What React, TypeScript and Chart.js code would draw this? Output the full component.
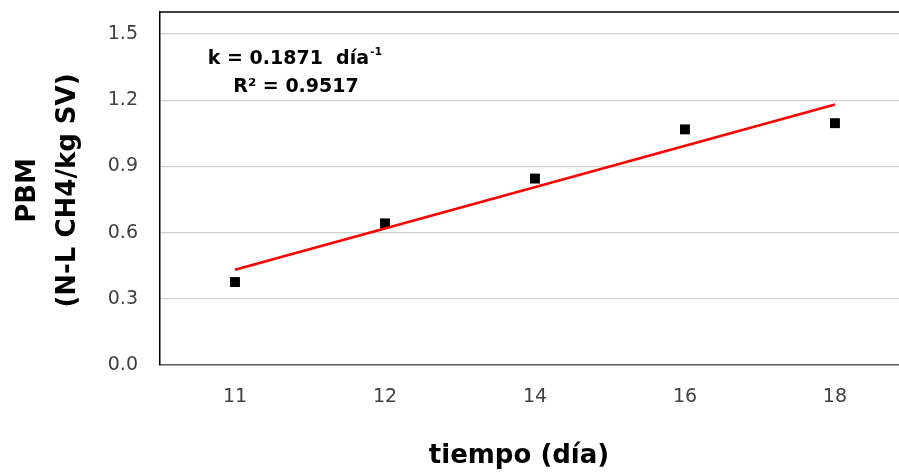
import React, { useEffect, useRef } from "react";
import { Chart, registerables } from "chart.js";

Chart.register(...registerables);

const categories = ["11", "12", "14", "16", "18"];
const pbmValues = [0.376, 0.642, 0.845, 1.068, 1.096];
const trendValues = [0.432, 1.181];
const trendIndex = [0, 4];
const yTicks = [0, 0.3, 0.6, 0.9, 1.2, 1.5];
const yTitle = ["PBM", "(N-L CH4/kg SV)"];
const xTitle = "tiempo (día)";
const annotK = "k = 0.1871  día";
const annotKExp = "-1";
const annotR = "R² = 0.9517";

const FONT = "'DejaVu Sans', sans-serif";

const overlay = {
  id: "overlay",
  afterDraw(chart: any) {
    const { ctx, chartArea } = chart;
    ctx.save();
    // top border
    ctx.strokeStyle = "#000";
    ctx.lineWidth = 1.5;
    ctx.beginPath();
    ctx.moveTo(chartArea.left, chartArea.top);
    ctx.lineTo(chartArea.right, chartArea.top);
    ctx.stroke();

    ctx.fillStyle = "#000";
    // y title
    ctx.font = `bold 26px ${FONT}`;
    ctx.textAlign = "center";
    ctx.textBaseline = "alphabetic";
    const cy = (chartArea.top + chartArea.bottom) / 2 + 2;
    [[35, yTitle[0]], [75, yTitle[1]]].forEach(([x, t]: any) => {
      ctx.save();
      ctx.translate(x, cy);
      ctx.rotate(-Math.PI / 2);
      ctx.fillText(t, 0, 0);
      ctx.restore();
    });
    // x title
    ctx.font = `bold 26px ${FONT}`;
    ctx.fillText(xTitle, 519, 463);

    // annotation
    ctx.font = `bold 19px ${FONT}`;
    const w1 = ctx.measureText(annotK).width;
    ctx.font = `bold 11px ${FONT}`;
    const w2 = ctx.measureText(annotKExp).width;
    const cx = 295;
    const start = cx - (w1 + w2 + 1) / 2;
    ctx.textAlign = "left";
    ctx.font = `bold 19px ${FONT}`;
    ctx.fillText(annotK, start, 64);
    ctx.font = `bold 11px ${FONT}`;
    ctx.fillText(annotKExp, start + w1 + 1, 55);
    ctx.textAlign = "center";
    ctx.font = `bold 19px ${FONT}`;
    ctx.fillText(annotR, 296, 92);
    ctx.restore();
  },
};

export default function App() {
  const ref = useRef<HTMLCanvasElement>(null);
  useEffect(() => {
    if (!ref.current) return;
    const chart = new Chart(ref.current, {
      type: "scatter",
      data: {
        datasets: [
          {
            type: "line",
            data: trendIndex.map((x, i) => ({ x, y: trendValues[i] })),
            borderColor: "#ff0000",
            borderWidth: 2.5,
            pointRadius: 0,
            fill: false,
          } as any,
          {
            data: pbmValues.map((y, i) => ({ x: i, y })),
            pointStyle: "rect",
            pointRadius: 7,
            backgroundColor: "#000",
            borderWidth: 0,
          },
        ],
      },
      plugins: [overlay],
      options: {
        responsive: false,
        animation: false,
        layout: { autoPadding: false, padding: { top: 12, right: 0, left: 0, bottom: 0 } },
        plugins: { legend: { display: false }, tooltip: { enabled: false } },
        scales: {
          x: {
            type: "linear",
            min: -0.5,
            max: 4.427,
            afterBuildTicks: (s: any) => {
              s.ticks = categories.map((_, i) => ({ value: i }));
            },
            afterFit: (s: any) => {
              s.height = 109;
              s.paddingLeft = 0;
              s.paddingRight = 0;
            },
            grid: { display: false, drawTicks: false },
            border: { display: true, color: "#595959", width: 1.5 },
            ticks: {
              padding: 21,
              color: "#404040",
              font: { family: FONT, size: 19 },
              callback: (v: any) => categories[v] ?? "",
            },
          },
          y: {
            min: 0,
            max: 1.6,
            afterBuildTicks: (s: any) => {
              s.ticks = yTicks.map((v) => ({ value: v }));
            },
            afterFit: (s: any) => {
              s.width = 160;
              s.paddingTop = 0;
              s.paddingBottom = 0;
            },
            grid: {
              drawTicks: false,
              color: (c: any) => (c.tick && c.tick.value === 0 ? "rgba(0,0,0,0)" : "#d0d0d0"),
              lineWidth: 1.2,
            },
            border: { display: true, color: "#000", width: 1.5 },
            ticks: {
              padding: 22,
              color: "#404040",
              font: { family: FONT, size: 19 },
              callback: (v: any) => Number(v).toFixed(1),
            },
          },
        },
      },
    });
    return () => chart.destroy();
  }, []);
  return (
    <div style={{ position: "fixed", left: 0, top: 0, width: 899, height: 474, background: "#fff" }}>
      <canvas ref={ref} width={899} height={474} style={{ width: 899, height: 474 }} />
    </div>
  );
}
